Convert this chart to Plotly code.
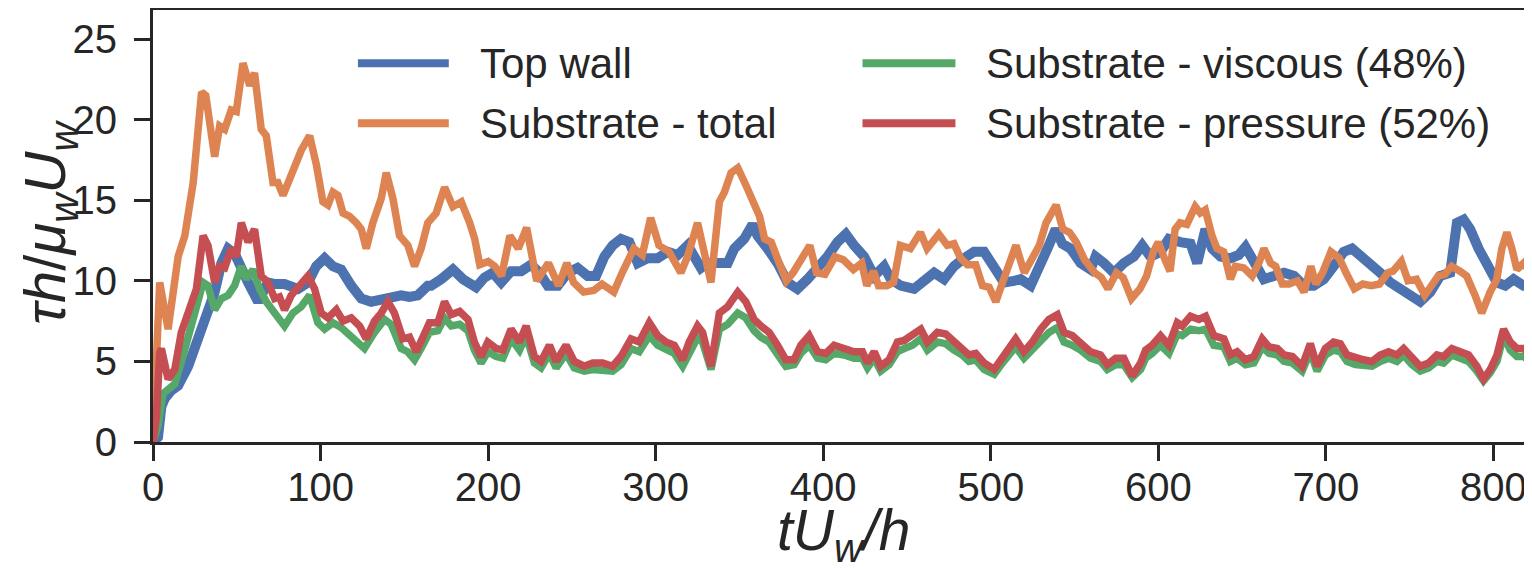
import plotly.graph_objects as go

# ---- data ----
top_wall = [(0,0),(3,0.3),(5,2.2),(7,2.7),(11,3.2),(15,3.5),(21,4.7),(27,6.6),(31.8,8.0),(36.8,9.3),
            (40.8,11.1),(44.8,12.0),(48.7,11.7),(52.7,10.7),(56.7,9.9),(62.7,8.7),(68.6,9.9),(73,9.8),(78.5,9.8),(86.5,9.5),
            (92.5,9.9),(97.4,10.9),(102.4,11.4),(107.4,10.9),(112.3,10.7),(118.3,9.7),(124.3,8.9),(130.2,8.7),(138.2,8.9),(143,9.0),
            (148.1,9.1),(153,9.0),(158,9.1),(164,9.7),(166,9.7),(172,10.1),(179,10.7),(185,10.1),(192.8,9.6),(197.8,10.2),
            (202.8,10.5),(207.8,9.9),(213.7,10.6),(219.7,10.6),(225.6,11.0),(230.6,10.5),(235.6,9.7),(241.6,9.7),(247.5,10.5),(253.4,10.8),
            (259.4,10.3),(264.4,10.3),(269.4,11.5),(274.4,12.2),(279.3,12.6),(284.3,12.4),(289.3,11.1),(295.2,11.4),(301.2,11.4),(307.1,11.8),
            (313.1,11.6),(319.1,12.2),(324,11.3),(327,10.8),(331,11.1),(337,11.1),(343,11.1),(346.9,12.0),(352.8,12.6),(357.8,13.5),
            (360.8,12.8),(366.8,12.0),(372.7,11.1),(378.7,9.9),(384.6,9.5),(390.6,10.1),(396.6,10.7),(402.5,11.5),(408.5,12.4),(413.5,12.9),
            (418.4,12.2),(424.4,11.5),(430.4,10.3),(436.3,10.9),(440.3,10.1),(446.3,9.7),(454.2,9.5),(460.2,10.1),(466.2,10.5),(472.1,10.1),
            (478,10.9),(484,11.4),(490,11.8),(496,11.8),(502,10.9),(507.9,9.9),(513.8,10.0),(517.8,10.1),(523.8,9.7),(529.8,10.9),
            (534.7,12.2),(538.7,13.2),(542.7,12.3),(547.6,12.0),(553.6,11.1),(559.5,10.7),(562.5,11.5),(567.5,11.1),(573.4,10.5),(579.4,11.1),
            (585.4,11.5),(590.4,12.2),(595.3,11.5),(601.3,11.8),(606.3,12.6),(613.2,12.4),(619.2,12.3),(623.2,11.1),(628.1,13.2),(632.1,12.0),
            (637.1,11.5),(643,11.4),(648,11.6),(652,12.1),(657,11.3),(663,10.1),(669,10.3),(675,10.5),(681,10.3),(686.8,9.7),
            (692.7,9.7),(698.7,10.1),(704.6,10.9),(710.6,11.8),(715.6,12.0),(720.5,11.5),(726.5,10.9),(732.4,10.5),(738.4,9.9),(744.4,9.5),
            (750.3,9.1),(756.3,8.7),(762.3,9.3),(768.2,10.3),(774.2,10.5),(778.2,13.6),(782.2,13.8),(786.1,13.2),(791.1,12.0),(796.1,11.1),
            (802.1,9.9),(807,9.7),(812,10.1),(818,9.7),(823,9.7)]

substrate_total = [(0,0),(2,6.5),(4,9.9),(9,7.0),(15,11.5),(19,12.8),(24,16.1),(29,21.7),(31.5,21.5),(36.8,17.7),
            (39.8,19.6),(42.8,19.4),(46.7,20.6),(49.7,20.5),(53.7,23.5),(57.7,22.1),(60.6,22.9),(64.6,19.4),(67.6,19.0),(71.6,16.1),
            (74.5,16.1),(77.6,15.3),(80.5,16.1),(84.5,17.3),(88.5,18.1),(93.5,19.0),(97.5,17.2),(101.4,14.9),(104.4,14.7),(107.4,15.5),
            (110.4,15.3),(113.4,14.2),(117.3,14.0),(121.3,13.6),(124.3,13.2),(127.3,12.0),(131.2,13.6),(136.2,15.1),(139.2,16.7),(143.2,15.1),
            (147.1,12.8),(152.1,12.2),(156.1,10.9),(160,12.0),(164,13.6),(169,14.2),(174,15.8),(179,14.6),(184,14.9),(189,13.6),
            (192,12.6),(195,11.0),(200,11.2),(204,10.9),(208,10.3),(213,12.8),(218,12.0),(223,13.3),(229,10.0),(236,11.1),
            (242,9.7),(247,11.1),(251,9.9),(257,9.3),(263,9.4),(268,9.8),(275,9.3),(280,10.5),(287,12.0),(292,11.6),
            (297,13.9),(302,12.2),(308,11.8),(315,10.5),(319,11.5),(325,13.6),(333,9.9),(338,14.9),(341,15.5),(345,16.7),
            (349,17.0),(354,15.9),(358,14.9),(362,14.0),(365,12.6),(369,12.4),(373,11.3),(378,10.0),(382,10.5),(387,11.3),
            (392,12.2),(396,10.5),(401,10.4),(407,11.5),(412,11.3),(418,10.7),(423,11.1),(426,9.7),(430,10.6),(433,9.7),
            (438,9.7),(442,9.9),(446,12.2),(452,12.0),(458,13.0),(462,12.0),(469,12.9),(474,12.2),(478,12.3),(482,11.4),
            (486,11.0),(491,11.0),(495,9.7),(499,9.6),(503,8.7),(507,9.9),(512,11.5),(515,12.2),(520,10.5),(524,11.3),
            (529,12.2),(533,13.6),(539,14.7),(543,13.2),(547,13.0),(551,12.4),(556,11.3),(562,10.5),(566,10.2),(570,9.5),
            (575,10.5),(579,10.2),(584,8.9),(589,9.5),(593,10.3),(597,11.8),(600,12.4),(604,11.3),(607,10.6),(610,13.2),
            (613,13.6),(617,13.5),(622,14.6),(625,14.2),(628,14.4),(632,12.8),(635,12.0),(639,11.8),(643,10.1),(646,10.9),
            (651,10.8),(656,10.3),(660,11.1),(663,12.0),(667,11.1),(670,10.9),(674,9.8),(678,9.8),(683,10.0),(687,9.3),
            (691,10.9),(694,9.8),(698,10.5),(703,11.8),(708,11.4),(712,10.5),(717,9.5),(722,9.8),(727,9.7),(732,9.8),
            (737,10.5),(740,10.6),(745,11.2),(749,10.0),(754,10.1),(759,9.1),(763,9.7),(767,10.3),(771,10.4),(775,10.9),
            (780,10.6),(784,10.3),(789,9.1),(793,8.0),(798,9.3),(802,10.1),(805,12.0),(808,13.0),(811,12.0),(814,10.7),
            (818,11.1),(822,10.5)]

substrate_viscous = [(0,0),(3,1.0),(6,3.0),(9,3.3),(13,3.6),(17,5.0),(21,6.4),(25.9,8.4),(29.9,9.9),(32.8,9.7),
            (36.8,8.2),(40.8,8.9),(44.8,9.1),(48.7,9.7),(52.7,10.9),(55.7,10.1),(59.7,10.7),(63.6,9.5),(67.6,8.7),(72.6,8.0),
            (78.5,7.2),(83.5,8.0),(88.5,8.4),(93.5,9.1),(98.4,7.4),(102.4,7.0),(107.4,7.4),(112.3,7.1),(118.3,6.6),(126.2,5.8),
            (132.2,6.8),(138.2,7.6),(142.1,7.3),(148.1,5.8),(152,5.6),(156.1,5.1),(160,5.8),(165,6.8),(170,6.9),(174,7.7),
            (178,7.2),(183,7.3),(188,6.9),(191.8,5.7),(195.8,4.9),(199.8,5.6),(204.8,5.3),(208.8,5.2),(213.7,6.4),(218.7,5.7),
            (222.7,6.6),(227.6,4.9),(231.6,4.6),(236.6,5.5),(240.6,4.6),(246.5,5.5),(251.4,4.6),(257.4,4.4),(262.4,4.5),(268.4,4.5),
            (274.3,4.4),(279.3,4.8),(285.3,5.8),(290.2,5.6),(296.2,6.6),(301.2,6.0),(306.1,5.7),(311.1,5.5),(316.1,4.7),(320,5.6),
            (325,6.5),(328,6.2),(333,4.5),(338,7.0),(343,7.3),(349,8.0),(353.8,7.7),(358.8,6.9),(362.8,6.5),(367.7,6.2),
            (372.7,5.5),(377.7,4.7),(382.6,4.8),(386.6,5.5),(391.6,6.0),(396.6,5.2),(401.5,5.1),(406.5,5.5),(412.4,5.4),(418.4,5.2),
            (423.4,5.2),(426.4,4.6),(430.4,5.2),(434.3,4.4),(439.3,4.8),(444.3,5.6),(448.3,5.8),(453.2,6.0),(458.2,6.4),(462.2,5.7),
            (468.1,6.2),(473.1,6.1),(478.1,5.7),(483,5.4),(487,5.0),(491,5.1),(496,4.5),(502,4.2),(506.9,4.9),(511.9,5.5),
            (514.8,5.9),(519.8,5.2),(524.8,5.7),(529.8,6.3),(534.7,6.8),(539.7,7.1),(543.7,6.2),(548.6,6.0),(553.6,5.7),(559.5,5.2),
            (565.5,5.0),(569.5,4.5),(574.5,4.8),(579.4,4.8),(584.4,4.0),(589.4,4.5),(592.4,5.2),(596.3,5.5),(601.3,6.0),(606.3,5.5),
            (611.3,6.7),(614.2,6.6),(619.2,7.0),(624.2,6.9),(628.2,7.0),(633.1,6.0),(639.1,5.9),(643,5.0),(647,5.2),(652,4.8),
            (657,4.9),(662,5.9),(666,5.5),(671,5.4),(675,5.0),(680,4.9),(685.8,4.4),(690.7,5.6),(694.7,4.4),(699.7,5.4),
            (704.6,5.7),(708.6,5.6),(712.6,5.0),(717.6,4.8),(722.5,4.8),(727.5,4.7),(732.4,5.0),(737.4,5.2),(742.4,5.0),(746.4,5.4),
            (751.3,4.8),(756.3,4.4),(761.3,4.6),(766.3,5.0),(770.2,4.9),(775.2,5.4),(780.2,5.2),(785.1,5.0),(790.1,4.4),(794.1,3.8),
            (798.1,4.3),(802.1,5.0),(806,6.6),(810,5.7),(814,5.3),(818,5.3),(822,5.0)]

substrate_pressure = [(0,0),(2,1.5),(4,5.5),(5,5.8),(9,3.9),(13,4.5),(16.9,6.8),(21.9,8.2),(25.9,9.5),(29.9,12.8),
            (32.8,12.2),(36.8,9.9),(39.8,10.9),(42.8,10.8),(46.7,12.0),(49.7,11.5),(52.7,13.6),(56.7,12.4),(60.6,13.2),(64.6,10.3),
            (68.6,9.9),(72.6,8.9),(75.5,9.0),(78.5,8.2),(82.5,9.1),(87.5,9.7),(92.5,10.3),(96.4,9.5),(100.4,8.0),(104.4,7.7),
            (109.4,8.2),(113.4,7.5),(118.3,7.7),(123.3,7.2),(127.3,6.4),(132.2,7.5),(136.2,8.0),(140.2,8.7),(144.1,8.0),(149.1,6.4),
            (153.1,6.5),(157.1,5.6),(161,6.4),(165,7.4),(170,7.4),(174,8.7),(178,7.9),(183,8.1),(188,7.6),(191.8,6.2),
            (195.8,5.3),(199.8,6.2),(204.8,5.8),(208.8,5.7),(213.7,7.0),(218.7,6.2),(222.7,7.2),(227.6,5.3),(231.6,5.0),(236.6,6.0),
            (240.6,5.0),(246.5,6.0),(251.4,5.0),(257.4,4.7),(262.4,4.9),(268.4,4.9),(274.3,4.7),(279.3,5.3),(285.3,6.4),(290.2,6.2),
            (296.2,7.4),(301.2,6.6),(306.1,6.2),(311.1,6.0),(316.1,5.1),(320,6.2),(325,7.2),(328,6.8),(333,4.7),(338,8.0),
            (343,8.4),(349,9.3),(353.8,8.7),(358.8,7.6),(362.8,7.2),(367.7,6.8),(372.7,6.0),(377.7,5.1),(382.6,5.1),(386.6,6.0),
            (391.6,6.6),(396.6,5.6),(401.5,5.5),(406.5,6.0),(412.4,5.8),(418.4,5.6),(423.4,5.6),(426.4,4.9),(430.4,5.6),(434.3,4.7),
            (439.3,5.1),(444.3,6.2),(448.3,6.3),(453.2,6.6),(458.2,7.0),(462.2,6.2),(468.1,6.8),(473.1,6.7),(478.1,6.2),(483,5.8),
            (487,5.4),(491,5.5),(496,4.9),(502,4.5),(506.9,5.3),(511.9,6.0),(514.8,6.4),(519.8,5.6),(524.8,6.2),(529.8,7.0),
            (534.7,7.6),(539.7,7.9),(543.7,6.8),(548.6,6.6),(553.6,6.2),(559.5,5.6),(565.5,5.4),(569.5,4.8),(574.5,5.2),(579.4,5.2),
            (584.4,4.1),(589.4,4.9),(592.4,5.7),(596.3,6.0),(601.3,6.6),(606.3,6.0),(611.3,7.4),(614.2,7.2),(619.2,7.8),(624.2,7.6),
            (628.2,7.8),(633.1,6.6),(639.1,6.4),(643,5.4),(647,5.6),(652,5.1),(657,5.3),(662,6.4),(666,5.9),(671,5.8),
            (675,5.4),(680,5.3),(685.8,4.7),(690.7,6.1),(694.7,4.7),(699.7,5.8),(704.6,6.2),(708.6,6.1),(712.6,5.4),(717.6,5.2),
            (722.5,5.1),(727.5,5.0),(732.4,5.4),(737.4,5.6),(742.4,5.4),(746.4,5.8),(751.3,5.2),(756.3,4.7),(761.3,4.9),(766.3,5.4),
            (770.2,5.3),(775.2,5.8),(780.2,5.6),(785.1,5.4),(790.1,4.7),(794.1,3.9),(798.1,4.5),(802.1,5.4),(806,7.0),(810,6.2),
            (814,5.8),(818,5.8),(822,5.4)]

series_names = ["Top wall", "Substrate - total", "Substrate - viscous (48%)", "Substrate - pressure (52%)"]
series_data = [top_wall, substrate_total, substrate_viscous, substrate_pressure]
x_ticks = [0, 100, 200, 300, 400, 500, 600, 700, 800]
y_ticks = [0, 5, 10, 15, 20, 25]
x_title = "<i>tU</i><sub><i>w</i></sub><i>/h</i>"
y_title = "<i>τh</i>/<i>μ</i><sub><i>w</i></sub><i>U</i><sub><i>w</i></sub>"

# ---- style ----
colors = ["#4C72B0", "#DD8452", "#55A868", "#C44E52"]
widths = [10, 7.5, 7.5, 7.5]
INK = "#262626"
FONT = "Liberation Sans, Arial, sans-serif"

fig = go.Figure()
for name, data, c, w in zip(series_names, series_data, colors, widths):
    fig.add_trace(go.Scatter(
        x=[p[0] for p in data], y=[p[1] for p in data],
        mode="lines", name=name, line=dict(color=c, width=w),
        showlegend=False,
    ))

# manual legend (two columns, long handles like the reference)
legend_slots = [  # (x0, x1, text_x, y) in paper coords
    (0.1486, 0.2145, 0.2355, 0.8765),
    (0.1486, 0.2145, 0.2355, 0.7380),
    (0.5145, 0.5819, 0.6025, 0.8765),
    (0.5145, 0.5819, 0.6025, 0.7380),
]
for (x0, x1, tx, yy), name, c in zip(legend_slots, series_names, colors):
    fig.add_shape(type="line", xref="paper", yref="paper", x0=x0, x1=x1, y0=yy, y1=yy,
                  line=dict(color=c, width=8))
    fig.add_annotation(xref="paper", yref="paper", x=tx, y=yy, text=name, showarrow=False,
                       xanchor="left", yanchor="middle", font=dict(size=42, color=INK, family=FONT))

# axis titles
fig.add_annotation(xref="paper", yref="paper", x=0.501, y=-0.212, text=x_title, showarrow=False,
                   xanchor="center", yanchor="middle", font=dict(size=57, color=INK, family=FONT))
fig.add_annotation(xref="paper", yref="paper", x=-0.075, y=0.509, text=y_title, showarrow=False,
                   textangle=-90, xanchor="center", yanchor="middle", font=dict(size=58, color=INK, family=FONT))

# the page body adds an 8px offset, so the figure is 8px smaller than the window
fig.update_layout(
    width=1524, height=561,
    margin=dict(l=144.5, r=0, t=1.5, b=127, autoexpand=False),
    paper_bgcolor="white", plot_bgcolor="white",
    font=dict(family=FONT, color=INK, size=40),
    xaxis=dict(
        range=[0, 823], tickvals=x_ticks, ticks="outside", ticklen=16, tickwidth=3, tickcolor=INK,
        showline=True, linecolor=INK, linewidth=3, mirror=True, showgrid=False, zeroline=False,
        tickfont=dict(size=40, family=FONT, color=INK), ticklabelstandoff=-8, automargin=False,
    ),
    yaxis=dict(
        range=[0, 26.8], tickvals=y_ticks, ticks="outside", ticklen=16, tickwidth=3, tickcolor=INK,
        showline=True, linecolor=INK, linewidth=3, mirror=False, showgrid=False, zeroline=False,
        tickfont=dict(size=40, family=FONT, color=INK), ticklabelstandoff=9, automargin=False,
    ),
)

fig.write_html("out.html")
